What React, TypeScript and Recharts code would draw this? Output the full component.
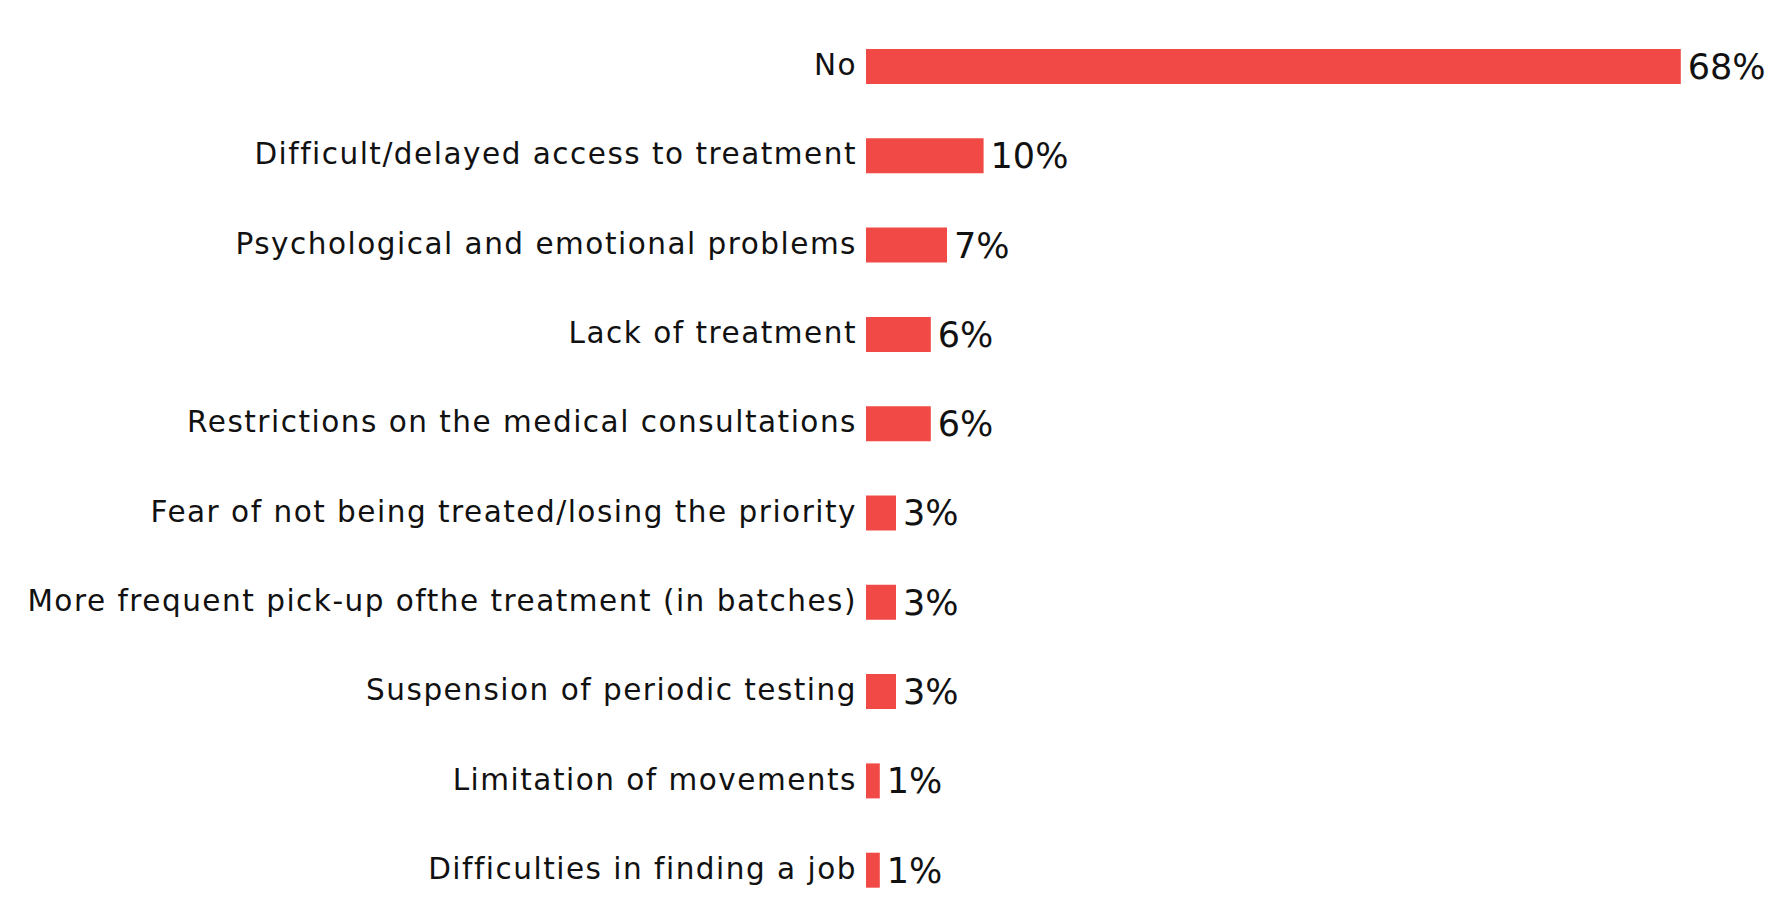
import React from "react";
import { BarChart, Bar, XAxis, YAxis, LabelList } from "recharts";

const categories = [
  "No",
  "Difficult/delayed access to treatment",
  "Psychological and emotional problems",
  "Lack of treatment",
  "Restrictions on the medical consultations",
  "Fear of not being treated/losing the priority",
  "More frequent pick-up ofthe treatment (in batches)",
  "Suspension of periodic testing",
  "Limitation of movements",
  "Difficulties in finding a job",
];

// bar lengths (percent)
const values = [67.9, 9.8, 6.75, 5.4, 5.4, 2.5, 2.5, 2.5, 1.15, 1.15];
// printed labels
const valueLabels = ["68%", "10%", "7%", "6%", "6%", "3%", "3%", "3%", "1%", "1%"];

const data = categories.map((c, i) => ({ name: c, value: values[i], label: valueLabels[i] }));

const FONT = "'DejaVu Sans', sans-serif";

export default function App() {
  return (
    <div style={{ position: "absolute", left: 0, top: 0, width: 1789, height: 916, background: "#fff" }}>
      <BarChart
        width={1789}
        height={916}
        data={data}
        layout="vertical"
        margin={{ top: 22, right: 83, bottom: 1, left: 0 }}
        barCategoryGap={0}
      >
        <XAxis type="number" domain={[0, 70]} hide />
        <YAxis
          type="category"
          dataKey="name"
          width={866}
          axisLine={false}
          tickLine={false}
          tickSize={0}
          tickMargin={9}
          interval={0}
          tick={{ fill: "#111", fontSize: 29.5, fontFamily: FONT, letterSpacing: 1.5, dy: -2 }}
        />
        <Bar dataKey="value" fill="#F14A46" barSize={35} isAnimationActive={false}>
          <LabelList
            dataKey="label"
            position="right"
            offset={7}
            style={{ fill: "#111", fontSize: 35, fontFamily: FONT }}
          />
        </Bar>
      </BarChart>
    </div>
  );
}
